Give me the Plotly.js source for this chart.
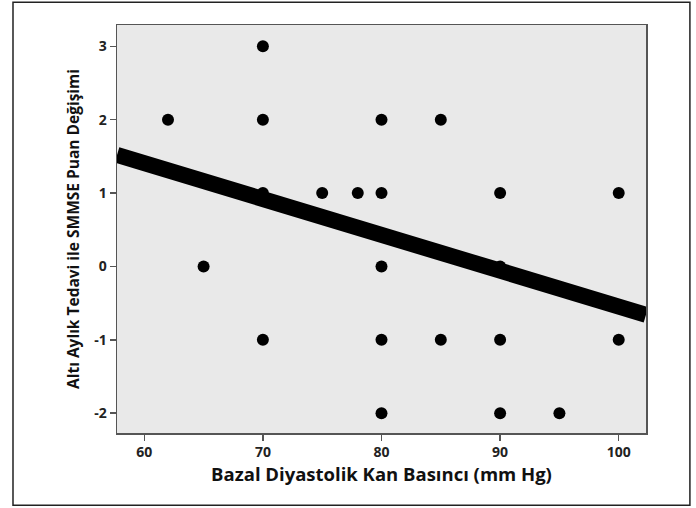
<!DOCTYPE html>
<html>
<head>
<meta charset="utf-8">
<script src="https://cdn.plot.ly/plotly-3.0.1.min.js"></script>
<style>html,body{margin:0;padding:0;background:#fff;}</style>
</head>
<body>
<div id="chart" style="width:696px;height:508px;"></div>
<script>
const diastolic = [62, 65, 70, 70, 70, 70, 75, 78, 80, 80, 80, 80, 80, 85, 85, 90, 90, 90, 90, 95, 100, 100];
const mmseChange = [2, 0, 3, 2, 1, -1, 1, 1, 2, 1, 0, -1, -2, 2, -1, 1, 0, -1, -2, -2, 1, -1];
const fitX = [57.7, 102.3];
const fitY = [1.52, -0.66];
const xTicks = [60, 70, 80, 90, 100];
const yTicks = [-2, -1, 0, 1, 2, 3];

const traces = [
  {x: fitX, y: fitY, mode: 'lines', type: 'scatter', line: {color: '#000', width: 16}, hoverinfo: 'skip', cliponaxis: true},
  {x: diastolic, y: mmseChange, mode: 'markers', type: 'scatter', marker: {color: '#000', size: 12, line: {width: 0}}}
];

const tickFont = {family: 'Open Sans, sans-serif', size: 14, color: '#222', weight: 700};
const layout = {
  width: 696, height: 508,
  margin: {l: 117, r: 50, t: 25, b: 75},
  paper_bgcolor: '#fff', plot_bgcolor: '#e9e9e9',
  showlegend: false,
  xaxis: {
    range: [57.7, 102.3], tickvals: xTicks, ticktext: xTicks.map(v => '<b>' + v + '</b>'),
    showgrid: false, zeroline: false, showline: true, linecolor: '#555', linewidth: 1.5, mirror: true,
    ticks: 'outside', ticklen: 6, tickwidth: 1.5, tickcolor: '#555',
    tickfont: tickFont,
    title: {text: 'Bazal Diyastolik Kan Basıncı (mm Hg)', font: {family: 'Open Sans, sans-serif', size: 18.5, color: '#111', weight: 700}, standoff: 5}
  },
  yaxis: {
    range: [-2.27, 3.29], tickvals: yTicks, ticktext: yTicks.map(v => '<b>' + (v < 0 ? '-' + Math.abs(v) : String(v)) + '</b>'),
    showgrid: false, zeroline: false, showline: true, linecolor: '#555', linewidth: 1.5, mirror: true,
    ticks: 'outside', ticklen: 6, tickwidth: 1.5, tickcolor: '#555',
    tickfont: tickFont,
    title: {text: 'Altı Aylık Tedavi ile SMMSE Puan Değişimi', font: {family: 'Open Sans, sans-serif', size: 15.5, color: '#111', weight: 700}, standoff: 11}
  },
  shapes: [{
    type: 'rect', xref: 'paper', yref: 'paper',
    x0: -0.1966, x1: 1.083, y0: -0.177, y1: 1.056,
    line: {color: '#222', width: 1.5}, fillcolor: 'rgba(0,0,0,0)', layer: 'below'
  }]
};
Plotly.newPlot('chart', traces, layout, {displayModeBar: false, staticPlot: true});
</script>
</body>
</html>
